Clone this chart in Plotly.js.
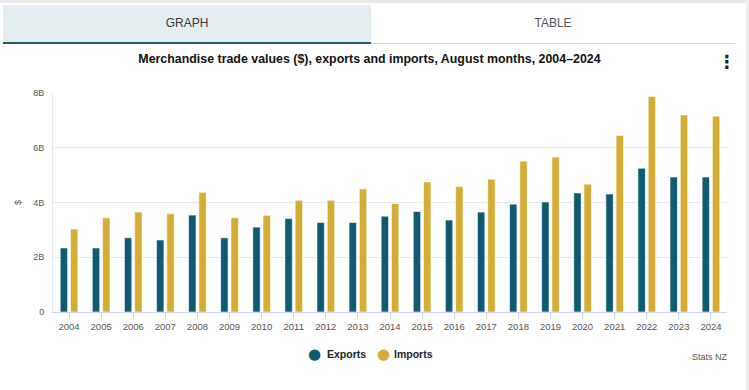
<!DOCTYPE html>
<html>
<head>
<meta charset="utf-8">
<script src="https://cdn.plot.ly/plotly-3.0.1.min.js"></script>
<style>
  html, body { margin:0; padding:0; background:#fff; }
  #wrap { position:relative; width:749px; height:390px; overflow:hidden; background:#fff; }
  #chart { position:absolute; left:0; top:0; width:749px; height:390px; }
  .ov { position:absolute; pointer-events:none; }
</style>
</head>
<body>
<div id="wrap">
  <div id="chart"></div>
  <div class="ov" style="left:0;top:0;width:749px;height:3px;background:#e9e9e9;"></div>
  <div class="ov" style="left:746px;top:0;width:3px;height:390px;background:#efefef;"></div>
  <div class="ov" style="left:3px;top:5px;width:368px;height:37px;background:#e4eef1;"></div>
  <div class="ov" style="left:3px;top:42px;width:368px;height:2px;background:#1f5c6e;"></div>
  <div class="ov" style="left:371px;top:43px;width:364px;height:1px;background:#dcdcdc;"></div>
  <div class="ov" style="left:3px;top:5px;width:368px;height:37px;line-height:37px;text-align:center;font-family:'Liberation Sans',Arial,sans-serif;font-size:12px;color:#3a3a3a;">GRAPH</div>
  <div class="ov" style="left:371px;top:5px;width:364px;height:37px;line-height:37px;text-align:center;font-family:'Liberation Sans',Arial,sans-serif;font-size:12px;color:#555;">TABLE</div>
  <div class="ov" style="left:718px;top:50px;width:14px;height:24px;line-height:24px;text-align:center;font-family:'DejaVu Sans',sans-serif;font-weight:bold;font-size:18px;color:#222;">⋮</div>
</div>
<script>
const years = ['2004','2005','2006','2007','2008','2009','2010','2011','2012','2013','2014','2015','2016','2017','2018','2019','2020','2021','2022','2023','2024'];
const exportsB = [2.34,2.34,2.71,2.63,3.54,2.71,3.10,3.42,3.27,3.27,3.50,3.67,3.36,3.65,3.94,4.02,4.35,4.31,5.25,4.93,4.93];
const importsB = [3.03,3.44,3.65,3.59,4.37,3.44,3.53,4.08,4.08,4.50,3.96,4.75,4.58,4.85,5.51,5.66,4.67,6.45,7.87,7.20,7.15];
const yTickVals = [0,2,4,6,8];
const yTickText = ['0','2B','4B','6B','8B'];
const seriesNames = ['Exports','Imports'];
const colExp = '#0d5b73';
const colImp = '#d5ac34';

const traces = [
  {type:'bar', x:years, y:exportsB, name:seriesNames[0], marker:{color:colExp, line:{color:'#ffffff', width:0.6}}, hoverinfo:'none'},
  {type:'bar', x:years, y:importsB, name:seriesNames[1], marker:{color:colImp, line:{color:'#ffffff', width:0.6}}, hoverinfo:'none'}
];

const L = 53, T = 93, PW = 674, PH = 219;
const px = v => (v - L) / PW;
const py = v => (T + PH - v) / PH;
const legFont = {family:'Liberation Sans, Arial, sans-serif', size:10.5, color:'#222', weight:'bold'};
const dotFont = c => ({family:'DejaVu Sans, sans-serif', size:15, color:c});

const layout = {
  width:749, height:390,
  margin:{l:L, r:749-L-PW, t:T, b:390-T-PH},
  paper_bgcolor:'rgba(0,0,0,0)', plot_bgcolor:'rgba(0,0,0,0)',
  showlegend:false,
  barmode:'group', bargap:0.36, bargroupgap:0.28,
  title:{text:'Merchandise trade values ($), exports and imports, August months, 2004–2024',
    font:{family:'Liberation Sans, Arial, sans-serif', size:12.4, color:'#111', weight:'bold'},
    x:0.4933, xref:'container', xanchor:'center', y:1-59/390, yref:'container', yanchor:'middle'},
  xaxis:{type:'category', range:[-0.5,20.5], showgrid:false, showline:true, linecolor:'#ccd6eb', linewidth:1,
    ticks:'outside', ticklen:6, tickcolor:'#ccd6eb', tickwidth:1,
    tickfont:{family:'Liberation Sans, Arial, sans-serif', size:9.5, color:'#555'}, fixedrange:true},
  yaxis:{range:[0,8], tickvals:yTickVals, ticktext:yTickText, showgrid:true, gridcolor:'#e9e9e9', gridwidth:1,
    zeroline:false, showline:true, linecolor:'#e4e8ee', linewidth:1, ticks:'', ticklabelstandoff:6,
    tickfont:{family:'Liberation Sans, Arial, sans-serif', size:9, color:'#555'},
    title:{text:'$', font:{family:'Liberation Sans, Arial, sans-serif', size:9, color:'#555'}, standoff:10}, fixedrange:true},
  annotations:[
    {text:'●', xref:'paper', yref:'paper', x:px(314), y:py(354), xanchor:'center', yanchor:'middle', showarrow:false, font:dotFont(colExp)},
    {text:seriesNames[0], xref:'paper', yref:'paper', x:px(325), y:py(354), xanchor:'left', yanchor:'middle', showarrow:false, font:legFont},
    {text:'●', xref:'paper', yref:'paper', x:px(383), y:py(354), xanchor:'center', yanchor:'middle', showarrow:false, font:dotFont(colImp)},
    {text:seriesNames[1], xref:'paper', yref:'paper', x:px(392), y:py(354), xanchor:'left', yanchor:'middle', showarrow:false, font:legFont},
    {text:'Stats NZ', xref:'paper', yref:'paper', x:1.005, y:py(357), xanchor:'right', yanchor:'middle', showarrow:false,
     font:{family:'Liberation Sans, Arial, sans-serif', size:9, color:'#555'}}
  ]
};

Plotly.newPlot('chart', traces, layout, {displayModeBar:false, staticPlot:true});
</script>
</body>
</html>
